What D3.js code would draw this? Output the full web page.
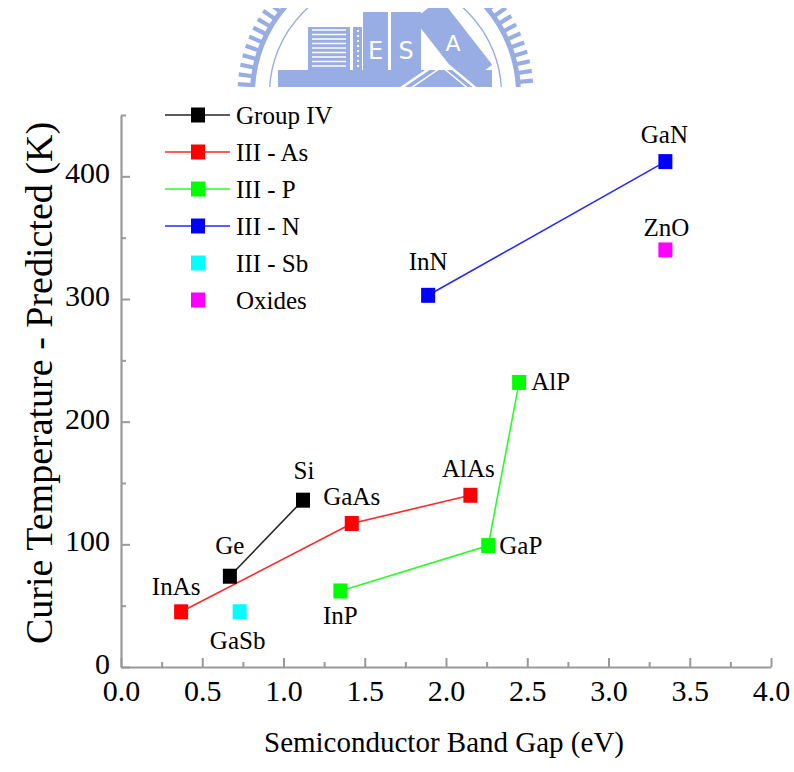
<!DOCTYPE html>
<html>
<head>
<meta charset="utf-8">
<script src="https://cdn.jsdelivr.net/npm/d3@7"></script>
<style>
  body { margin: 0; background: #fff; }
</style>
</head>
<body>
<svg id="chart" width="794" height="772"></svg>
<script>
const serifFont = '"Liberation Serif"';

// Series (material families) and their colours
const seriesNames = ["Group IV", "III - As", "III - P", "III - N", "III - Sb", "Oxides"];
const seriesColors = ["#000000", "#ff0000", "#00ff00", "#0000ff", "#00ffff", "#ff00ff"];
const seriesConnected = [true, true, true, true, false, false];

// Materials: band gap (eV) and predicted Curie temperature (K)
const materials      = ["Ge", "Si", "InAs", "GaAs", "AlAs", "InP", "GaP", "AlP", "InN", "GaN", "GaSb", "ZnO"];
const materialSeries = [0, 0, 1, 1, 1, 2, 2, 2, 3, 3, 4, 5];
const bandGapEV      = [0.67, 1.12, 0.37, 1.42, 2.15, 1.35, 2.26, 2.45, 1.89, 3.35, 0.73, 3.35];
const curieTempK     = [74, 136, 45, 117, 140, 62, 99, 232, 303, 412, 45, 340];

// Axis ticks
const xMajorTicks = [0, 0.5, 1.0, 1.5, 2.0, 2.5, 3.0, 3.5, 4.0];
const xMinorTicks = [0.25, 0.75, 1.25, 1.75, 2.25, 2.75, 3.25, 3.75];
const yMajorTicks = [0, 100, 200, 300, 400];
const yMinorTicks = [50, 150, 250, 350, 450];

const svg = d3.select("#chart");

// ---- emblem at the top of the page ----
function drawEmblem() {
  const blue = "#98ade3";
  const cx = 385.5, cy = 94;
  const defs = svg.append("defs");
  defs.append("clipPath").attr("id", "emblemClip")
    .append("rect").attr("x", 230).attr("y", 8).attr("width", 310).attr("height", 79);
  const g = svg.append("g").attr("clip-path", "url(#emblemClip)");

  // toothed outer ring
  g.append("circle").attr("cx", cx).attr("cy", cy).attr("r", 133)
    .attr("fill", "none").attr("stroke", blue).attr("stroke-width", 5);
  for (let a = -180; a <= 0; a += 3.8) {
    const t = a * Math.PI / 180;
    g.append("line")
      .attr("x1", cx + 134 * Math.cos(t)).attr("y1", cy + 134 * Math.sin(t))
      .attr("x2", cx + 148 * Math.cos(t)).attr("y2", cy + 148 * Math.sin(t))
      .attr("stroke", blue).attr("stroke-width", 4.2);
  }
  // thin inner ring
  g.append("circle").attr("cx", cx).attr("cy", cy).attr("r", 116)
    .attr("fill", "none").attr("stroke", blue).attr("stroke-width", 1.4);

  // striped building
  g.append("rect").attr("x", 308).attr("y", 27).attr("width", 42).attr("height", 45).attr("fill", blue);
  for (let y = 30; y < 70; y += 4.5) {
    g.append("line").attr("x1", 312).attr("x2", 346).attr("y1", y).attr("y2", y)
      .attr("stroke", "#fff").attr("stroke-width", 1.3);
  }
  g.append("rect").attr("x", 353).attr("y", 27).attr("width", 9).attr("height", 45).attr("fill", blue);
  for (let y = 30; y < 70; y += 5) {
    g.append("rect").attr("x", 357).attr("y", y).attr("width", 2).attr("height", 2).attr("fill", "#fff");
  }
  // E and S blocks
  g.append("rect").attr("x", 363).attr("y", 12).attr("width", 25).attr("height", 60).attr("fill", blue);
  g.append("rect").attr("x", 391).attr("y", 12).attr("width", 30).attr("height", 60).attr("fill", blue);
  g.append("text").attr("x", 375.5).attr("y", 59).attr("text-anchor", "middle")
    .style("font-family", '"DejaVu Sans"').style("font-size", "24px").style("fill", "#fff").text("E");
  g.append("text").attr("x", 406).attr("y", 59).attr("text-anchor", "middle")
    .style("font-family", '"DejaVu Sans"').style("font-size", "24px").style("fill", "#fff").text("S");
  // tilted A block
  const aBlock = g.append("g").attr("transform", "translate(453,42) rotate(-38)");
  aBlock.append("rect").attr("x", -17).attr("y", -42).attr("width", 34).attr("height", 84).attr("fill", blue);
  aBlock.append("text").attr("x", 0).attr("y", 9).attr("text-anchor", "middle")
    .attr("transform", "rotate(38)")
    .style("font-family", '"DejaVu Sans"').style("font-size", "22px").style("fill", "#fff").text("A");
  // base with chevron
  g.append("rect").attr("x", 278).attr("y", 70).attr("width", 214).attr("height", 20).attr("fill", blue);
  g.append("polyline").attr("points", "398,90 442,60 478,90")
    .attr("fill", "none").attr("stroke", "#fff").attr("stroke-width", 2.5);
  g.append("polyline").attr("points", "408,90 442,67 470,90")
    .attr("fill", "none").attr("stroke", "#fff").attr("stroke-width", 1.5);
}
drawEmblem();

// ---- scales ----
const x = d3.scaleLinear().domain([0, 4]).range([121, 771]);
const y = d3.scaleLinear().domain([0, 450]).range([667, 115]);

const axisColor = "#9a9a9a";

// ---- axes ----
const xMinor = svg.append("g").attr("transform", `translate(0,${y(0)})`)
  .call(d3.axisBottom(x).tickValues(xMinorTicks).tickSize(-5).tickFormat(""));
const xMajor = svg.append("g").attr("transform", `translate(0,${y(0)})`)
  .call(d3.axisBottom(x).tickValues(xMajorTicks).tickSizeInner(-9).tickSizeOuter(0)
    .tickPadding(13).tickFormat(d3.format(".1f")));
const yMinor = svg.append("g").attr("transform", `translate(${x(0)},0)`)
  .call(d3.axisLeft(y).tickValues(yMinorTicks).tickSize(-5).tickFormat(""));
const yMajor = svg.append("g").attr("transform", `translate(${x(0)},0)`)
  .call(d3.axisLeft(y).tickValues(yMajorTicks).tickSizeInner(-9).tickSizeOuter(0)
    .tickPadding(11).tickFormat(d3.format("d")));

[xMinor, xMajor, yMinor, yMajor].forEach(a => {
  a.attr("font-family", null).attr("font-size", null);
  a.selectAll(".domain").attr("stroke", axisColor).attr("stroke-width", 2.2);
  a.selectAll(".tick line").attr("stroke", axisColor).attr("stroke-width", 2);
  a.selectAll("text").style("font-family", serifFont).style("font-size", "30px").attr("fill", "#000");
});
xMinor.select(".domain").remove();
yMinor.select(".domain").remove();
yMajor.selectAll(".tick text").attr("dy", "0.22em");

// axis titles
svg.append("text").attr("x", 444).attr("y", 752).attr("text-anchor", "middle")
  .style("font-family", serifFont).style("font-size", "29px").attr("fill", "#000")
  .text("Semiconductor Band Gap (eV)");
svg.append("text").attr("transform", `translate(52,383) rotate(-90)`).attr("text-anchor", "middle")
  .style("font-family", serifFont).style("font-size", "38px").attr("fill", "#000")
  .text("Curie Temperature - Predicted (K)");

// ---- series lines ----
const line = d3.line().x(d => x(d.bg)).y(d => y(d.tc));
const points = materials.map((m, i) => ({ name: m, s: materialSeries[i], bg: bandGapEV[i], tc: curieTempK[i] }));

seriesNames.forEach((s, si) => {
  if (!seriesConnected[si]) return;
  const pts = points.filter(p => p.s === si).sort((a, b) => a.bg - b.bg);
  svg.append("path").datum(pts).attr("d", line)
    .attr("fill", "none").attr("stroke", seriesColors[si]).attr("stroke-width", 1.6).attr("opacity", 0.85);
});

// ---- markers ----
const mw = 14, mh = 15;
svg.append("g").selectAll("rect").data(points).join("rect")
  .attr("x", d => x(d.bg) - mw / 2).attr("y", d => y(d.tc) - mh / 2)
  .attr("width", mw).attr("height", mh)
  .attr("fill", d => seriesColors[d.s]);

// ---- point labels ----
const labelPlacement = {
  Si:   { dx: 1,   dy: -21, anchor: "middle" },
  Ge:   { dx: 0,   dy: -22, anchor: "middle" },
  InAs: { dx: -5,  dy: -17, anchor: "middle" },
  GaAs: { dx: 0,   dy: -18, anchor: "middle" },
  AlAs: { dx: -2,  dy: -18, anchor: "middle" },
  GaSb: { dx: -2,  dy: 37,  anchor: "middle" },
  InP:  { dx: 0,   dy: 33,  anchor: "middle" },
  GaP:  { dx: 11,  dy: 8,   anchor: "start" },
  AlP:  { dx: 12,  dy: 8,   anchor: "start" },
  InN:  { dx: 0,   dy: -25, anchor: "middle" },
  GaN:  { dx: -1,  dy: -19, anchor: "middle" },
  ZnO:  { dx: 1,   dy: -14, anchor: "middle" }
};
svg.append("g").selectAll("text").data(points).join("text")
  .attr("x", d => x(d.bg) + labelPlacement[d.name].dx)
  .attr("y", d => y(d.tc) + labelPlacement[d.name].dy)
  .attr("text-anchor", d => labelPlacement[d.name].anchor)
  .style("font-family", serifFont).style("font-size", "25px").attr("fill", "#000")
  .text(d => d.name);

// ---- legend ----
const legend = svg.append("g");
seriesNames.forEach((s, i) => {
  const ly = 115 + i * 37;
  const row = legend.append("g").attr("transform", `translate(0,${ly})`);
  if (seriesConnected[i]) {
    row.append("line").attr("x1", 165).attr("x2", 230).attr("y1", 0).attr("y2", 0)
      .attr("stroke", seriesColors[i]).attr("stroke-width", 1.6).attr("opacity", 0.85);
  }
  row.append("rect").attr("x", 191).attr("y", -mh / 2).attr("width", mw).attr("height", mh)
    .attr("fill", seriesColors[i]);
  row.append("text").attr("x", 236).attr("y", 9)
    .style("font-family", serifFont).style("font-size", "25px").attr("fill", "#000").text(s);
});
</script>
</body>
</html>
